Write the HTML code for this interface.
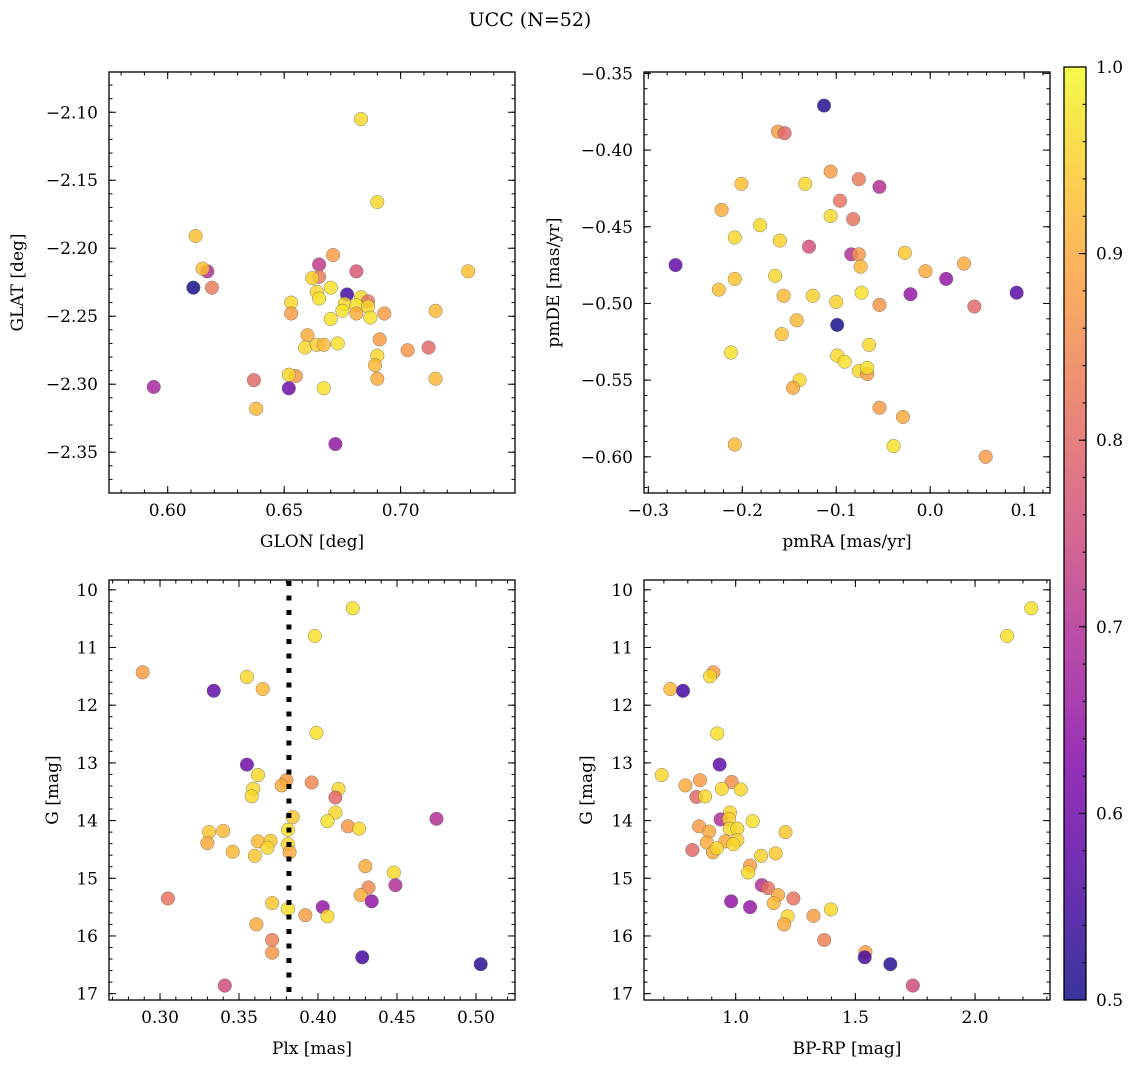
<!DOCTYPE html>
<html><head><meta charset="utf-8">
<style>
html,body{margin:0;padding:0;background:#fff;}
svg{display:block;font-family:"DejaVu Serif","Liberation Serif",serif;}
</style></head>
<body>
<svg id="fig" width="1136" height="1067" viewBox="0 0 1136 1067" xmlns="http://www.w3.org/2000/svg">
<text x="530" y="26" font-size="19" text-anchor="middle">UCC (N=52)</text>
</svg>
<script>
// ---- data (panel 1: GLON/GLAT) ----
const glon=[0.683,0.690,0.612,0.729,0.671,0.665,0.681,0.617,0.615,0.611,0.619,0.665,0.662,0.670,0.664,0.665,0.677,0.683,0.686,0.653,0.676,0.681,0.686,0.675,0.681,0.693,0.715,0.653,0.687,0.670,0.660,0.691,0.659,0.664,0.667,0.673,0.703,0.712,0.690,0.689,0.690,0.715,0.637,0.655,0.652,0.652,0.594,0.667,0.638,0.672];
const glat=[-2.105,-2.166,-2.191,-2.217,-2.205,-2.212,-2.217,-2.217,-2.215,-2.229,-2.229,-2.221,-2.222,-2.229,-2.232,-2.237,-2.234,-2.236,-2.239,-2.240,-2.241,-2.242,-2.243,-2.246,-2.248,-2.248,-2.246,-2.248,-2.251,-2.252,-2.264,-2.267,-2.273,-2.271,-2.271,-2.270,-2.275,-2.273,-2.279,-2.286,-2.296,-2.296,-2.297,-2.294,-2.293,-2.303,-2.302,-2.303,-2.318,-2.344];
const prob1=[0.96,0.96,0.93,0.93,0.88,0.72,0.77,0.70,0.93,0.5,0.83,0.83,0.95,0.97,0.96,0.97,0.55,0.96,0.82,0.96,0.96,0.97,0.96,0.97,0.90,0.88,0.92,0.88,0.97,0.97,0.90,0.88,0.96,0.95,0.92,0.97,0.87,0.80,0.96,0.92,0.90,0.92,0.80,0.87,0.96,0.60,0.68,0.97,0.92,0.65];
// ---- data (panel 2: pmRA/pmDE) ----
const pmra=[-0.113,-0.162,-0.155,-0.106,-0.076,-0.054,-0.201,-0.133,-0.096,-0.222,-0.106,-0.082,-0.181,-0.208,-0.160,-0.129,-0.084,-0.076,-0.074,-0.027,0.036,-0.271,-0.005,0.017,-0.208,-0.165,-0.225,-0.156,-0.125,-0.073,-0.021,0.092,-0.100,-0.054,0.047,-0.099,-0.142,-0.158,-0.065,-0.212,-0.099,-0.091,-0.076,-0.067,-0.067,-0.139,-0.146,-0.054,-0.029,-0.039,-0.208,0.059];
const pmde=[-0.371,-0.388,-0.389,-0.414,-0.419,-0.424,-0.422,-0.422,-0.433,-0.439,-0.443,-0.445,-0.449,-0.457,-0.459,-0.463,-0.468,-0.468,-0.476,-0.467,-0.474,-0.475,-0.479,-0.484,-0.484,-0.482,-0.491,-0.495,-0.495,-0.493,-0.494,-0.493,-0.499,-0.501,-0.502,-0.514,-0.511,-0.520,-0.527,-0.532,-0.534,-0.538,-0.544,-0.546,-0.542,-0.550,-0.555,-0.568,-0.574,-0.593,-0.592,-0.600];
const prob2=[0.52,0.88,0.80,0.88,0.83,0.70,0.93,0.96,0.82,0.90,0.96,0.82,0.96,0.96,0.95,0.76,0.70,0.87,0.92,0.94,0.90,0.58,0.90,0.65,0.93,0.96,0.93,0.92,0.95,0.97,0.65,0.57,0.95,0.87,0.80,0.50,0.92,0.93,0.96,0.97,0.96,0.97,0.96,0.88,0.97,0.96,0.90,0.88,0.90,0.97,0.92,0.88];
// ---- data (panel 3: Plx/G) ----
const plx=[0.422,0.398,0.289,0.355,0.365,0.334,0.399,0.355,0.362,0.380,0.377,0.396,0.359,0.358,0.413,0.411,0.384,0.411,0.406,0.475,0.381,0.419,0.426,0.331,0.340,0.330,0.362,0.370,0.368,0.381,0.382,0.346,0.360,0.430,0.448,0.449,0.432,0.427,0.434,0.403,0.406,0.392,0.371,0.381,0.305,0.361,0.371,0.371,0.428,0.503,0.341];
const gmag3=[10.32,10.80,11.43,11.51,11.72,11.75,12.48,13.03,13.21,13.30,13.39,13.34,13.45,13.58,13.45,13.60,13.94,13.86,14.01,13.97,14.16,14.10,14.14,14.20,14.18,14.39,14.36,14.35,14.47,14.41,14.55,14.54,14.61,14.79,14.90,15.12,15.16,15.29,15.40,15.50,15.66,15.64,15.43,15.53,15.35,15.80,16.07,16.29,16.37,16.49,16.86];
const prob3=[0.97,0.97,0.88,0.96,0.92,0.58,0.97,0.60,0.96,0.88,0.90,0.85,0.96,0.96,0.96,0.80,0.94,0.96,0.97,0.70,0.97,0.87,0.96,0.94,0.92,0.90,0.92,0.94,0.96,0.96,0.90,0.92,0.94,0.90,0.96,0.70,0.85,0.90,0.65,0.65,0.96,0.88,0.94,0.97,0.82,0.90,0.84,0.87,0.55,0.52,0.75];
const plxLine=0.3816;
// ---- data (panel 4: BP-RP/G) ----
const bprp=[2.235,2.134,0.907,0.893,0.727,0.780,0.923,0.933,0.691,0.851,0.983,0.790,0.942,1.021,0.836,0.872,0.976,0.937,0.972,1.071,0.847,0.889,0.975,1.007,1.208,0.879,0.957,1.007,0.990,0.819,0.905,0.921,1.106,1.167,1.060,1.052,1.109,1.135,1.177,1.159,1.241,0.981,1.060,1.217,1.202,1.325,1.398,1.370,1.542,1.539,1.646,1.740];
const gmag4=[10.32,10.80,11.43,11.50,11.72,11.75,12.49,13.03,13.21,13.30,13.33,13.39,13.45,13.46,13.59,13.58,13.86,13.98,13.97,14.01,14.10,14.19,14.14,14.14,14.20,14.38,14.36,14.34,14.41,14.51,14.55,14.48,14.61,14.57,14.78,14.90,15.12,15.17,15.29,15.43,15.35,15.40,15.50,15.66,15.80,15.65,15.54,16.07,16.28,16.37,16.49,16.86];
const prob4=[0.97,0.97,0.88,0.96,0.92,0.55,0.97,0.58,0.96,0.88,0.86,0.90,0.96,0.96,0.80,0.96,0.96,0.70,0.95,0.97,0.88,0.90,0.96,0.96,0.94,0.90,0.90,0.95,0.96,0.80,0.90,0.96,0.95,0.94,0.88,0.96,0.70,0.82,0.90,0.92,0.82,0.65,0.65,0.96,0.90,0.88,0.96,0.84,0.88,0.55,0.52,0.75];
// ---- ticks ----
const ticks1x=[0.60,0.65,0.70], ticks1y=[-2.10,-2.15,-2.20,-2.25,-2.30,-2.35];
const ticks2x=[-0.3,-0.2,-0.1,0.0,0.1], ticks2y=[-0.35,-0.40,-0.45,-0.50,-0.55,-0.60];
const ticks3x=[0.30,0.35,0.40,0.45,0.50], ticksG=[10,11,12,13,14,15,16,17];
const ticks4x=[1.0,1.5,2.0], ticksCb=[0.5,0.6,0.7,0.8,0.9,1.0];

const NS="http://www.w3.org/2000/svg";
const svg=document.getElementById('fig');
const FS=17;
function mk(tag,attrs,parent){const e=document.createElementNS(NS,tag);for(const k in attrs)e.setAttribute(k,attrs[k]);(parent||svg).appendChild(e);return e;}
const stops=[[0,[13,8,135]],[0.125,[76,2,161]],[0.25,[126,3,168]],[0.375,[168,34,150]],[0.5,[204,71,120]],[0.625,[229,107,93]],[0.75,[248,149,64]],[0.875,[253,195,40]],[1,[240,249,33]]];
function plasma(t){t=Math.max(0,Math.min(1,t));for(let i=1;i<stops.length;i++){if(t<=stops[i][0]){const a=stops[i-1],b=stops[i];const f=(t-a[0])/(b[0]-a[0]);const c=a[1].map((v,j)=>Math.round(v+(b[1][j]-v)*f));return 'rgb('+c.join(',')+')';}}return 'rgb(240,249,33)';}
function fmt(v,d){const s=Math.abs(v).toFixed(d);return (v<0?'\u2212':'')+s;}

function panel(o){
  const g=mk('g',{});
  
  
  const X=v=>o.x0+(v-o.xmin)/(o.xmax-o.xmin)*(o.x1-o.x0);
  const Y=o.yinv? v=>o.y0+(v-o.ymin)/(o.ymax-o.ymin)*(o.y1-o.y0) : v=>o.y1-(v-o.ymin)/(o.ymax-o.ymin)*(o.y1-o.y0);
  const tk=mk('g',{stroke:'#000','stroke-width':1},g);
  
  
  for(let v=Math.ceil(o.xmin/o.xminor-1e-6)*o.xminor; v<=o.xmax+1e-9; v+=o.xminor){const px=X(v);mk('line',{x1:px,x2:px,y1:o.y1,y2:o.y1-3.5},tk);mk('line',{x1:px,x2:px,y1:o.y0,y2:o.y0+3.5},tk);}
  for(let v=Math.ceil(o.ymin/o.yminor-1e-6)*o.yminor; v<=o.ymax+1e-9; v+=o.yminor){const py=Y(v);mk('line',{x1:o.x0,x2:o.x0+3.5,y1:py,y2:py},tk);mk('line',{x1:o.x1,x2:o.x1-3.5,y1:py,y2:py},tk);}
  o.xt.forEach(v=>{const px=X(v);mk('line',{x1:px,x2:px,y1:o.y1,y2:o.y1-7},tk);mk('line',{x1:px,x2:px,y1:o.y0,y2:o.y0+7},tk);
    const t=mk('text',{x:px,y:o.y1+23,'font-size':FS,'text-anchor':'middle'},g);t.textContent=fmt(v,o.xd);
    
    });
  o.yt.forEach(v=>{const py=Y(v);mk('line',{x1:o.x0,x2:o.x0+7,y1:py,y2:py},tk);mk('line',{x1:o.x1,x2:o.x1-7,y1:py,y2:py},tk);
    const t=mk('text',{x:o.x0-11,y:py+6,'font-size':FS,'text-anchor':'end'},g);t.textContent=fmt(v,o.yd);
    
    });
  const pts=mk('g',{},g);
  
  
  o.xs.forEach((xv,i)=>{const c=mk('circle',{cx:X(xv),cy:Y(o.ys[i]),r:6.8,fill:plasma((o.p[i]-0.5)/0.5),'fill-opacity':0.82,stroke:'#666','stroke-width':0.5,'stroke-opacity':0.8},pts);
    
    });
  if(o.vline!==undefined){const px=X(o.vline);const l=mk('line',{x1:px,x2:px,y1:o.y0+1,y2:o.y1,stroke:'#000','stroke-width':5,'stroke-dasharray':'5 9.5'},g);
    
    }
  const fr=mk('rect',{x:o.x0,y:o.y0,width:o.x1-o.x0,height:o.y1-o.y0,fill:'none',stroke:'#000','stroke-width':1.3},g);
  
  
  const xl=mk('text',{x:(o.x0+o.x1)/2,y:o.y1+54,'font-size':FS,'text-anchor':'middle'},g);xl.textContent=o.xlabel;
  
  
  const yc=(o.y0+o.y1)/2;
  const yl=mk('text',{x:o.ylx,y:yc,'font-size':FS,'text-anchor':'middle',transform:'rotate(-90 '+o.ylx+' '+yc+')'},g);yl.textContent=o.ylabel;
  
  
}
panel({name:'glon-glat-panel',x0:109,x1:515,y0:72,y1:493,xmin:0.5748,xmax:0.7491,ymin:-2.380,ymax:-2.0704,xminor:0.01,yminor:0.01,xt:ticks1x,yt:ticks1y,xd:2,yd:2,xs:glon,ys:glat,p:prob1,xlabel:'GLON [deg]',ylabel:'GLAT [deg]',ylx:23});
panel({name:'pm-panel',x0:644,x1:1050,y0:72,y1:493,xmin:-0.3046,xmax:0.1275,ymin:-0.6236,ymax:-0.3491,xminor:0.02,yminor:0.01,xt:ticks2x,yt:ticks2y,xd:1,yd:2,xs:pmra,ys:pmde,p:prob2,xlabel:'pmRA [mas/yr]',ylabel:'pmDE [mas/yr]',ylx:559});
panel({name:'plx-g-panel',x0:109,x1:515,y0:580,y1:1000,xmin:0.2677,xmax:0.5247,ymin:9.83,ymax:17.11,yinv:true,xminor:0.01,yminor:0.2,xt:ticks3x,yt:ticksG,xd:2,yd:0,xs:plx,ys:gmag3,p:prob3,vline:plxLine,xlabel:'Plx [mas]',ylabel:'G [mag]',ylx:58});
panel({name:'cmd-panel',x0:644,x1:1050,y0:580,y1:1000,xmin:0.617,xmax:2.313,ymin:9.83,ymax:17.11,yinv:true,xminor:0.1,yminor:0.2,xt:ticks4x,yt:ticksG,xd:1,yd:0,xs:bprp,ys:gmag4,p:prob4,xlabel:'BP-RP [mag]',ylabel:'G [mag]',ylx:592});

// colorbar
(function(){
  const cx0=1064,cx1=1086,cy0=67,cy1=1000;
  const g=mk('g',{});
  
  
  const defs=mk('defs',{},g);
  const lg=mk('linearGradient',{id:'cbg',x1:0,y1:1,x2:0,y2:0},defs);
  for(let i=0;i<=20;i++){const t=i/20;const c=plasma(t);mk('stop',{offset:t,'stop-color':c,'stop-opacity':0.82},lg);}
  mk('rect',{x:cx0,y:cy0,width:cx1-cx0,height:cy1-cy0,fill:'url(#cbg)',stroke:'#000','stroke-width':1.3},g);
  const Y=v=>cy1-(v-0.5)/0.5*(cy1-cy0);
  for(let v=0.5;v<=1.0001;v+=0.02){const py=Y(v);mk('line',{x1:cx1,x2:cx1-3.5,y1:py,y2:py,stroke:'#000','stroke-width':1},g);}
  ticksCb.forEach(v=>{const py=Y(v);mk('line',{x1:cx1,x2:cx1-7,y1:py,y2:py,stroke:'#000','stroke-width':1},g);
    const t=mk('text',{x:cx1+10,y:py+6,'font-size':FS},g);t.textContent=v.toFixed(1);
    
    });
})();
</script>
</body></html>
